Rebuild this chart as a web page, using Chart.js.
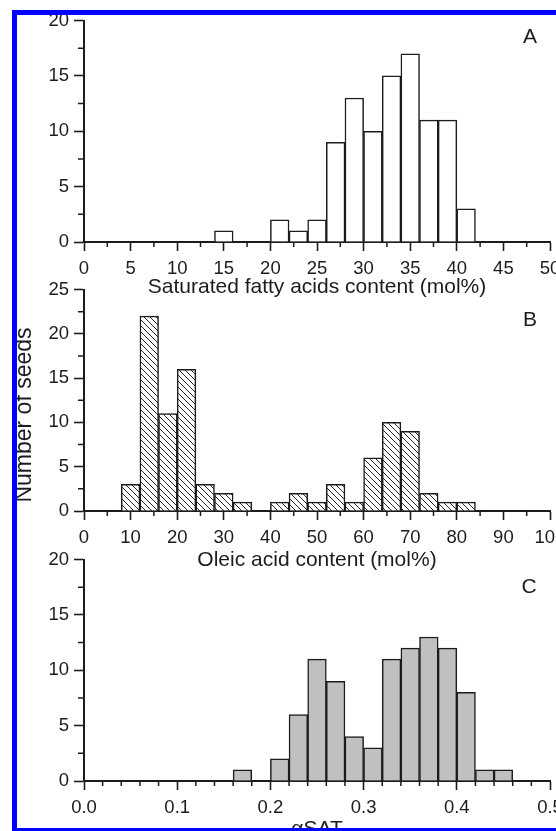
<!DOCTYPE html>
<html>
<head>
<meta charset="utf-8">
<title>Seed fatty acid histograms</title>
<script src="https://cdn.jsdelivr.net/npm/chart.js@4.4.1/dist/chart.umd.min.js"></script>
<style>
  html, body { margin: 0; padding: 0; background: #ffffff; }
  body { width: 556px; height: 831px; overflow: hidden; position: relative; }
  .panel { position: absolute; left: 0; width: 556px; height: 310px; }
  .panel canvas { display: block; }
  #frame {
    position: absolute; left: 12px; top: 10px; width: 700px; height: 813px;
    border: 5px solid #0000ff; border-right: none; z-index: 5; pointer-events: none;
  }
</style>
</head>
<body>
<div class="panel" style="top:0px"><canvas id="chartA" width="556" height="310"></canvas></div>
<div class="panel" style="top:269px"><canvas id="chartB" width="556" height="310"></canvas></div>
<div class="panel" style="top:539px"><canvas id="chartC" width="556" height="310"></canvas></div>
<div id="frame"></div>
<script>
// Saturated fatty acids content, 2 mol% bins (bin centres)
const satCenters = [15, 21, 23, 25, 27, 29, 31, 33, 35, 37, 39, 41];
const satCounts  = [1, 2, 1, 2, 9, 13, 10, 15, 17, 11, 11, 3];
const satTicks   = [0, 5, 10, 15, 20, 25, 30, 35, 40, 45, 50];

// Oleic acid content, 4 mol% bins (bin centres)
const oleicCenters = [10, 14, 18, 22, 26, 30, 34, 42, 46, 50, 54, 58, 62, 66, 70, 74, 78, 82];
const oleicCounts  = [3, 22, 11, 16, 3, 2, 1, 1, 2, 1, 3, 1, 6, 10, 9, 2, 1, 1];
const oleicTicks   = [0, 10, 20, 30, 40, 50, 60, 70, 80, 90, 100];

// alpha SAT, 0.02 bins (bin centres)
const alphaCenters = [0.17, 0.21, 0.23, 0.25, 0.27, 0.29, 0.31, 0.33, 0.35, 0.37, 0.39, 0.41, 0.43, 0.45];
const alphaCounts  = [1, 2, 6, 11, 9, 4, 3, 11, 12, 13, 12, 8, 1, 1];
const alphaTicks   = [0, 0.1, 0.2, 0.3, 0.4, 0.5];

// Number of seeds
const countTicks20 = [0, 5, 10, 15, 20];
const countTicks25 = [0, 5, 10, 15, 20, 25];

const INK = '#1c1c1c';
const FONT = '"Liberation Sans", Arial, sans-serif';

// diagonal hatch for the oleic acid histogram
function hatchPattern() {
  const s = 6;
  const c = document.createElement('canvas');
  c.width = s; c.height = s;
  const g = c.getContext('2d');
  g.fillStyle = '#ffffff';
  g.fillRect(0, 0, s, s);
  g.strokeStyle = '#2a2a2a';
  g.lineWidth = 1;
  g.beginPath();
  g.moveTo(-1, -1); g.lineTo(s + 1, s + 1);
  g.moveTo(-1, s - 1); g.lineTo(1, s + 1);
  g.moveTo(s - 1, -1); g.lineTo(s + 1, 1);
  g.stroke();
  return g.createPattern(c, 'repeat');
}

// short unlabelled ticks between the labelled ones
const minorTicks = {
  id: 'minorTicks',
  afterDraw(chart, args, opts) {
    const { ctx, chartArea } = chart;
    const xs = chart.scales.x, ys = chart.scales.y;
    ctx.save();
    ctx.strokeStyle = INK;
    ctx.lineWidth = 1.5;
    ctx.beginPath();
    const nx = Math.round((xs.max - xs.min) / opts.xStep);
    for (let i = 1; i < nx; i += 1) {
      if (i % opts.xEvery === 0) continue;
      const px = xs.getPixelForValue(xs.min + i * opts.xStep);
      ctx.moveTo(px, chartArea.bottom);
      ctx.lineTo(px, chartArea.bottom + 5);
    }
    const ny = Math.round((ys.max - ys.min) / opts.yStep);
    for (let i = 1; i < ny; i += 1) {
      if (i % 2 === 0) continue;
      const py = ys.getPixelForValue(ys.min + i * opts.yStep);
      ctx.moveTo(chartArea.left - 6, py);
      ctx.lineTo(chartArea.left, py);
    }
    ctx.stroke();
    ctx.restore();
  }
};

// panel letter and the shared y title
const panelText = {
  id: 'panelText',
  afterDraw(chart, args, opts) {
    const { ctx } = chart;
    ctx.save();
    ctx.fillStyle = INK;
    ctx.textAlign = 'center';
    ctx.textBaseline = 'middle';
    ctx.font = '21px ' + FONT;
    ctx.fillText(opts.letter, opts.letterX, opts.letterY);
    if (opts.yTitle) {
      ctx.translate(opts.yTitleX, opts.yTitleY);
      ctx.rotate(-Math.PI / 2);
      ctx.font = '23px ' + FONT;
      ctx.fillText(opts.yTitle, 0, 0);
    }
    ctx.restore();
  }
};

function makePanel(id, p) {
  const ctx = document.getElementById(id).getContext('2d');
  return new Chart(ctx, {
    type: 'bar',
    data: {
      datasets: [{
        data: p.centers.map((x, i) => ({ x: x, y: p.counts[i] })),
        backgroundColor: p.fill,
        borderColor: INK,
        borderWidth: 1.5,
        borderSkipped: 'start',
        barPercentage: 1,
        categoryPercentage: 1
      }]
    },
    options: {
      responsive: false,
      animation: false,
      events: [],
      layout: { autoPadding: false, padding: { left: 0, right: 6, top: 20.5, bottom: 0 } },
      plugins: {
        legend: { display: false },
        tooltip: { enabled: false },
        minorTicks: { xStep: p.xMinor, xEvery: p.xEvery, yStep: 2.5 },
        panelText: p.text
      },
      scales: {
        x: {
          type: 'linear',
          offset: false,
          min: p.xTicks[0],
          max: p.xTicks[p.xTicks.length - 1],
          afterBuildTicks: s => { s.ticks = p.xTicks.map(v => ({ value: v })); },
          afterFit: s => { s.height = 68; s.paddingLeft = 0; s.paddingRight = 0; },
          grid: { display: true, offset: false, drawOnChartArea: false, drawTicks: true,
                  tickLength: 9, tickWidth: 1.6, tickColor: INK },
          border: { display: true, color: INK, width: 2 },
          ticks: {
            color: INK, padding: 7, maxRotation: 0, autoSkip: false,
            font: { family: FONT, size: 18.5 },
            callback: v => p.xFmt(v)
          },
          title: {
            display: true, text: p.title, color: INK,
            font: { family: FONT, size: 21 },
            padding: { top: 0, bottom: p.titlePad }
          }
        },
        y: {
          type: 'linear',
          min: 0,
          max: p.yTicks[p.yTicks.length - 1],
          afterBuildTicks: s => { s.ticks = p.yTicks.map(v => ({ value: v })); },
          afterFit: s => { s.width = 84; s.paddingTop = 0; s.paddingBottom = 0; },
          grid: { display: true, drawOnChartArea: false, drawTicks: true,
                  tickLength: 10, tickWidth: 1.6, tickColor: INK },
          border: { display: true, color: INK, width: 2 },
          ticks: {
            color: INK, padding: 5, autoSkip: false,
            font: { family: FONT, size: 18.5 }
          }
        }
      }
    },
    plugins: [minorTicks, panelText]
  });
}

makePanel('chartA', {
  centers: satCenters, counts: satCounts, fill: '#ffffff',
  xTicks: satTicks, xMinor: 2.5, xEvery: 2, xFmt: v => String(v),
  yTicks: countTicks20,
  title: 'Saturated fatty acids content (mol%)', titlePad: 10.4,
  text: { letter: 'A', letterX: 530, letterY: 37 }
});

makePanel('chartB', {
  centers: oleicCenters, counts: oleicCounts, fill: hatchPattern(),
  xTicks: oleicTicks, xMinor: 5, xEvery: 2, xFmt: v => String(v),
  yTicks: countTicks25,
  title: 'Oleic acid content (mol%)', titlePad: 6.4,
  text: { letter: 'B', letterX: 530, letterY: 51,
          yTitle: 'Number of seeds', yTitleX: 25, yTitleY: 146 }
});

makePanel('chartC', {
  centers: alphaCenters, counts: alphaCounts, fill: '#c0c0c0',
  xTicks: alphaTicks, xMinor: 0.02, xEvery: 5, xFmt: v => v.toFixed(1),
  yTicks: countTicks20,
  title: 'αSAT', titlePad: 7.5,
  text: { letter: 'C', letterX: 529, letterY: 48 }
});
</script>
</body>
</html>
